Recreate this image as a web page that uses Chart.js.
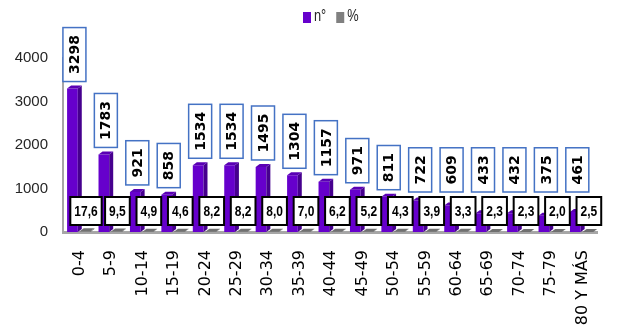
<!DOCTYPE html>
<html>
<head>
<meta charset="utf-8">
<title>Población por grupos de edad</title>
<script src="https://cdn.jsdelivr.net/npm/chart.js@4.4.1/dist/chart.umd.min.js"></script>
<style>
  html, body { margin: 0; padding: 0; background: #fff; }
  #wrap { width: 619px; height: 326px; }
</style>
</head>
<body>
<div id="wrap"><canvas id="grafico"></canvas></div>
<script>
// grupos de edad
var categories = ['0-4', '5-9', '10-14', '15-19', '20-24', '25-29', '30-34', '35-39', '40-44',
                  '45-49', '50-54', '55-59', '60-64', '65-69', '70-74', '75-79', '80 Y MÁS'];
// número de personas
var counts = [3298, 1783, 921, 858, 1534, 1534, 1495, 1304, 1157, 971, 811, 722, 609, 433, 432, 375, 461];
// porcentaje del total
var percents = [17.6, 9.5, 4.9, 4.6, 8.2, 8.2, 8.0, 7.0, 6.2, 5.2, 4.3, 3.9, 3.3, 2.3, 2.3, 2.0, 2.5];
var yTicks = [0, 1000, 2000, 3000, 4000];

var sans = "'Liberation Sans', Arial, sans-serif";
var wide = "'DejaVu Sans', Verdana, sans-serif";
var squeeze = 0.8;   // texto estrecho: se comprime en horizontal

// frente, lateral, tapa
var faces = [
    { front: '#6600CC', side: '#46008E', top: '#5A00B4' },
    { front: '#808080', side: '#5C5C5C', top: '#707070' }
];
var depthX = 4, depthY = 3;

function fmtPct(v) {
    return v.toFixed(1).replace('.', ',');
}

// caras laterales y superiores de las barras (efecto 3D)
var bars3d = {
    id: 'bars3d',
    afterDatasetsDraw: function(chart) {
        var ctx = chart.ctx;
        ctx.save();
        for (var di = chart.data.datasets.length - 1; di >= 0; di--) {
            var meta = chart.getDatasetMeta(di);
            meta.data.forEach(function(bar) {
                var l = bar.x - bar.width / 2, r = bar.x + bar.width / 2;
                ctx.fillStyle = faces[di].side;
                ctx.beginPath();
                ctx.moveTo(r, bar.y);
                ctx.lineTo(r + depthX, bar.y - depthY);
                ctx.lineTo(r + depthX, bar.base - depthY);
                ctx.lineTo(r, bar.base);
                ctx.closePath();
                ctx.fill();
                ctx.fillStyle = faces[di].top;
                ctx.beginPath();
                ctx.moveTo(l, bar.y);
                ctx.lineTo(l + depthX, bar.y - depthY);
                ctx.lineTo(r + depthX, bar.y - depthY);
                ctx.lineTo(r, bar.y);
                ctx.closePath();
                ctx.fill();
            });
        }
        ctx.restore();
    }
};

// etiquetas de valor en recuadros
var boxLabels = {
    id: 'boxLabels',
    afterDatasetsDraw: function(chart) {
        var ctx = chart.ctx;
        var area = chart.chartArea;
        var pctMid = area.bottom - 21, pctH = 28;
        var pctTop = pctMid - pctH / 2;
        ctx.save();
        ctx.textAlign = 'center';
        ctx.textBaseline = 'middle';

        // n°: texto vertical, borde azul
        ctx.font = 'bold 14px ' + wide;
        chart.getDatasetMeta(0).data.forEach(function(bar, i) {
            var txt = String(counts[i]);
            var w = 23, h = ctx.measureText(txt).width + 15;
            var bottom = Math.min(bar.y - 7, pctTop - 5);
            var cx = bar.x + 2;
            ctx.fillStyle = '#fff';
            ctx.fillRect(cx - w / 2, bottom - h, w, h);
            ctx.strokeStyle = '#4472C4';
            ctx.lineWidth = 1.5;
            ctx.strokeRect(cx - w / 2, bottom - h, w, h);
            ctx.save();
            ctx.translate(cx, bottom - h / 2);
            ctx.rotate(-Math.PI / 2);
            ctx.fillStyle = '#000';
            ctx.fillText(txt, 0, 1);
            ctx.restore();
        });

        // %: texto horizontal, borde negro
        ctx.font = 'bold 15px ' + sans;
        chart.getDatasetMeta(1).data.forEach(function(bar, i) {
            var txt = fmtPct(percents[i]);
            var w = ctx.measureText(txt).width * squeeze + 8;
            var cx = bar.x + 1;
            ctx.fillStyle = '#fff';
            ctx.fillRect(cx - w / 2, pctTop, w, pctH);
            ctx.strokeStyle = '#000';
            ctx.lineWidth = 2;
            ctx.strokeRect(cx - w / 2, pctTop, w, pctH);
            ctx.save();
            ctx.translate(cx, pctMid + 1);
            ctx.scale(squeeze, 1);
            ctx.fillStyle = '#000';
            ctx.fillText(txt, 0, 0);
            ctx.restore();
        });
        ctx.restore();
    }
};

// leyenda superior
var topLegend = {
    id: 'topLegend',
    afterDraw: function(chart) {
        var ctx = chart.ctx;
        var x = 303, y = 12;
        ctx.save();
        ctx.font = '16px ' + sans;
        ctx.textBaseline = 'middle';
        ctx.textAlign = 'left';
        chart.data.datasets.forEach(function(ds, di) {
            ctx.fillStyle = faces[di].front;
            ctx.fillRect(x, y, 8, 11);
            ctx.fillStyle = '#262626';
            ctx.save();
            ctx.translate(x + 11, y + 5);
            ctx.scale(squeeze, 1);
            ctx.fillText(ds.label, 0, 0);
            ctx.restore();
            x += 11 + ctx.measureText(ds.label).width * squeeze + 10;
        });
        ctx.restore();
    }
};

var canvas = document.getElementById('grafico');
var grafico = new Chart(canvas, {
    type: 'bar',
    data: {
        labels: categories,
        datasets: [{
            label: 'n°',
            data: counts,
            backgroundColor: faces[0].front,
            categoryPercentage: 0.8,
            barPercentage: 0.85
        }, {
            label: '%',
            data: percents,
            backgroundColor: faces[1].front,
            categoryPercentage: 0.8,
            barPercentage: 0.85
        }]
    },
    options: {
        responsive: true,
        maintainAspectRatio: false,
        animation: false,
        layout: { padding: { top: 58, right: 7, left: 0, bottom: 0 } },
        plugins: {
            legend: { display: false },
            tooltip: { enabled: false }
        },
        scales: {
            x: {
                grid: { display: false, drawTicks: false, tickLength: 0 },
                border: { display: true, color: '#A6A6A6', width: 3 },
                ticks: {
                    minRotation: 90,
                    maxRotation: 90,
                    padding: 18,
                    labelOffset: 1,
                    color: '#000',
                    font: { family: wide, size: 16 }
                },
                afterFit: function(s) { s.height = 94; }
            },
            y: {
                min: 0,
                max: 4000,
                grid: { display: false, drawTicks: false, tickLength: 0 },
                border: { display: true, color: '#A6A6A6', width: 2 },
                afterBuildTicks: function(s) {
                    s.ticks = yTicks.map(function(v) { return { value: v }; });
                },
                ticks: {
                    padding: 15,
                    color: '#262626',
                    font: { family: sans, size: 15 },
                    callback: function(v) { return String(v); }
                },
                afterFit: function(s) { s.width = 63; }
            }
        }
    },
    plugins: [bars3d, boxLabels, topLegend]
});
</script>
</body>
</html>
